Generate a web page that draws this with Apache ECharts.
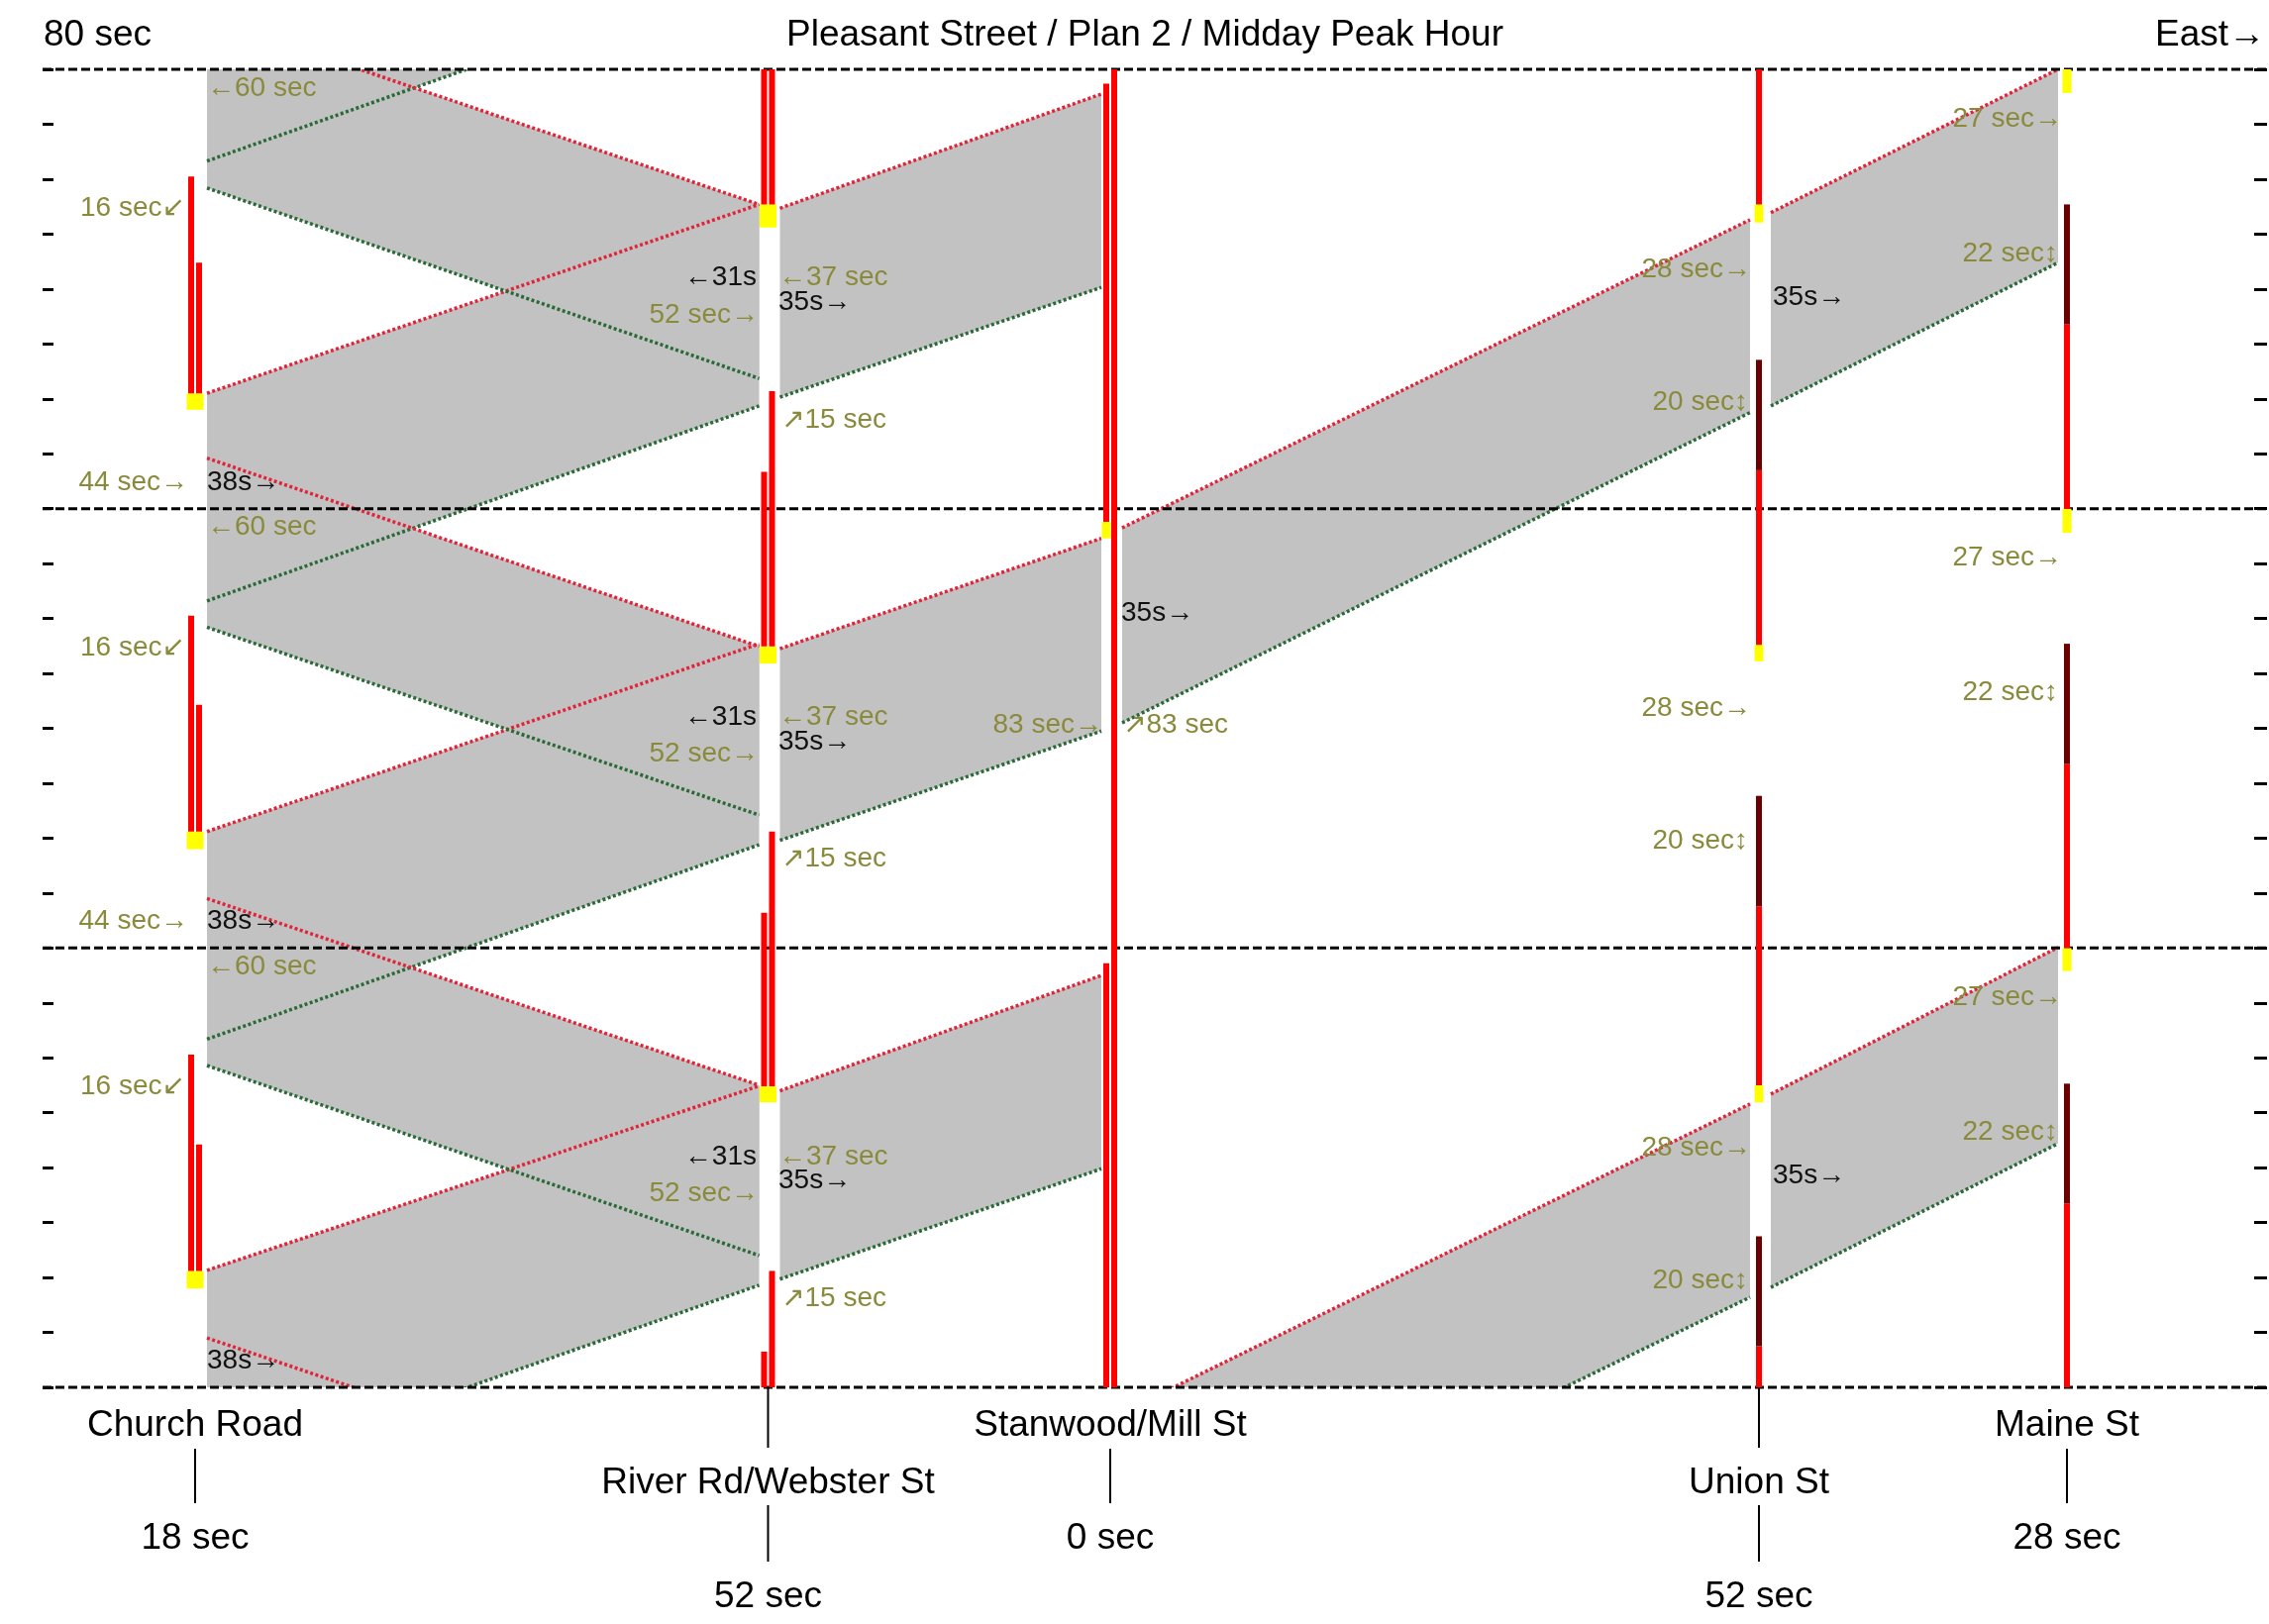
<!DOCTYPE html>
<html><head><meta charset="utf-8">
<script src="https://cdn.jsdelivr.net/npm/echarts@6/dist/echarts.min.js"></script>
<style>html,body{margin:0;padding:0;background:#fff}#c{width:2291px;height:1640px}</style>
</head><body><div id="c"></div>
<script>
// ---------------- DATA ----------------
const chartTitle = 'Pleasant Street / Plan 2 / Midday Peak Hour';
const cycleLabel = '80 sec';
const directionLabel = 'East\u2192';
const cycleBoundaries = [0, 80, 160, 240];
const tickTimes = [0, 240, 10];
const intersectionNames = ['Church Road', 'River Rd/Webster St', 'Stanwood/Mill St', 'Union St', 'Maine St'];
const intersectionDist = [154, 732.5, 1078, 1733, 2044];
const offsetLabels = ['18 sec', '52 sec', '0 sec', '52 sec', '28 sec'];
const labelRow = [0, 1, 0, 1, 0];

// signal bars: [startSec, endSec, state]  r=red, y=yellow, m=dark red
const churchBarA = [[18, 21.2, 'y'], [21.2, 60.6, 'r'], [98, 101.2, 'y'], [101.2, 140.5, 'r'], [178, 181, 'y'], [181, 220.5, 'r']];
const churchBarB = [[18, 21.2, 'y'], [21.2, 44.2, 'r'], [98, 101.2, 'y'], [101.2, 124.3, 'r'], [178, 181, 'y'], [181, 204.8, 'r']];
const riverBarA = [[0, 6.5, 'r'], [51.9, 54.8, 'y'], [54.8, 86.4, 'r'], [131.8, 134.9, 'y'], [134.9, 166.7, 'r'], [211.2, 215.4, 'y'], [215.4, 240, 'r']];
const riverBarB = [[0, 21.2, 'r'], [51.9, 54.8, 'y'], [54.8, 101.2, 'r'], [131.8, 134.9, 'y'], [134.9, 181.4, 'r'], [211.2, 215.4, 'y'], [215.4, 240, 'r']];
const stanwoodBarA = [[0, 77.2, 'r'], [154.6, 157.6, 'y'], [157.6, 237.4, 'r']];
const stanwoodBarB = [[0, 240, 'r']];
const unionBar = [[0, 7.5, 'r'], [7.5, 27.5, 'm'], [51.9, 55, 'y'], [55, 87.6, 'r'], [87.6, 107.7, 'm'], [132.2, 135.2, 'y'], [135.2, 167, 'r'], [167, 187.1, 'm'], [212.1, 215.4, 'y'], [215.4, 240, 'r']];
const maineBar = [[0, 33.5, 'r'], [33.5, 55.3, 'm'], [75.8, 80, 'y'], [80, 113.5, 'r'], [113.5, 135.4, 'm'], [155.6, 160, 'y'], [160, 193.6, 'r'], [193.6, 215.4, 'm'], [235.7, 240, 'y']];
const barIntersection = [0, 0, 1, 1, 2, 2, 3, 4];
const barSide = [-1, 1, -1, 1, -1, 1, 0, 0];
const barSegments = [churchBarA, churchBarB, riverBarA, riverBarB, stanwoodBarA, stanwoodBarB, unionBar, maineBar];

// green bands: [leftLow, leftHigh, rightLow, rightHigh] (seconds at left / right intersection)
const bandsChurchRiverEB = [[-16.6, 21.3, 18.6, 54.9], [63.4, 101.2, 98.8, 135.4], [143.2, 181.0, 178.7, 215.4], [223.3, 261.2, 258.8, 295.4]];
const bandsChurchRiverWB = [[-21.4, 9, -56, -25], [58.6, 89, 24, 55], [138.4, 169.2, 104.2, 134.9], [218.4, 249.4, 183.7, 215.4]];
const bandsRiverStanwood = [[19.7, 54.0, 39.8, 75.0], [99.6, 134.5, 119.5, 154.6], [180.3, 214.7, 200.3, 235.5]];
const bandsStanwoodUnion = [[-39.1, -4.6, 16.4, 51.6], [121.0, 156.5, 177.5, 212.6]];
const bandsUnionMaine = [[18.2, 53.4, 44.4, 80.1], [178.7, 213.9, 204.8, 240.0]];
const bandLinks = [[0, 1], [0, 1], [1, 2], [2, 3], [3, 4]];
const bandGroups = [bandsChurchRiverEB, bandsChurchRiverWB, bandsRiverStanwood, bandsStanwoodUnion, bandsUnionMaine];

// notes: text, distance, second within cycle, cycles shown
const noteTexts = ['\u219060 sec', '16 sec\u2199', '44 sec\u2192', '38s\u2192', '\u219031s', '52 sec\u2192', '\u219037 sec', '35s\u2192', '\u219715 sec', '28 sec\u2192', '20 sec\u2195', '35s\u2192', '27 sec\u2192', '22 sec\u2195', '35s\u2192', '83 sec\u2192', '\u219783 sec'];
const noteDist = [166, 144, 147, 166, 721, 723, 743, 743, 746, 1725, 1722, 1747, 2039, 2035, 1089, 1070, 1091];
const noteTime = [76.6, 54.7, 4.8, 4.8, 42, 35.3, 42, 37.6, 16.2, 43.6, 19.4, 38.5, 71, 46.5, 60.9, 40.6, 40.6];
const noteCycles = [[0, 1, 2], [0, 1, 2], [1, 2], [0, 1, 2], [0, 1, 2], [0, 1, 2], [0, 1, 2], [0, 1, 2], [0, 1, 2], [0, 1, 2], [0, 1, 2], [0, 2], [0, 1, 2], [0, 1, 2], [1], [1], [1]];
const noteAlign = ['left', 'right', 'right', 'left', 'right', 'right', 'left', 'left', 'left', 'right', 'right', 'left', 'right', 'right', 'left', 'right', 'left'];
const noteDark = [0, 0, 0, 1, 1, 0, 0, 1, 0, 0, 0, 1, 0, 0, 1, 0, 0];

// ---------------- BUILD ----------------
const FONT = '"Liberation Sans", "DejaVu Sans", Arial, sans-serif';
const OLIVE = '#8a8a3c';
const stateCode = { r: 0, y: 1, m: 2 };
const stateColor = ['#ff0000', '#ffff00', '#6a0000'];

const barData = [];
barSegments.forEach((segs, b) => {
  segs.forEach(s => barData.push([intersectionDist[barIntersection[b]], s[0], s[1], stateCode[s[2]], barSide[b]]));
});
const bandData = [];
bandGroups.forEach((g, i) => {
  g.forEach(b => bandData.push([intersectionDist[bandLinks[i][0]], intersectionDist[bandLinks[i][1]], b[0], b[1], b[2], b[3]]));
});
const noteData = [];
noteTexts.forEach((t, i) => {
  noteCycles[i].forEach(c => noteData.push([noteDist[i], c * 80 + noteTime[i], i]));
});

function txt(x, y, text, size, fill, align) {
  return { type: 'text', x: x, y: y, style: { text: text, fill: fill, font: size + 'px ' + FONT,
    align: align, textAlign: align, verticalAlign: 'middle', textVerticalAlign: 'middle' } };
}

function bandPoints(api) {
  const xl = api.coord([api.value(0), 0])[0] + 12;
  const xr = api.coord([api.value(1), 0])[0] - 9;
  const Y = t => api.coord([0, t])[1];
  return { xl, xr, ll: Y(api.value(2)), lh: Y(api.value(3)), rl: Y(api.value(4)), rh: Y(api.value(5)) };
}

const chart = echarts.init(document.getElementById('c'), null, { renderer: 'canvas', width: 2291, height: 1640 });
const yAxisBase = {
  type: 'value', min: tickTimes[0], max: tickTimes[1], interval: tickTimes[2],
  axisLine: { show: false }, axisLabel: { show: false, interval: 0 }, splitLine: { show: false }
};
chart.setOption({
  animation: false,
  backgroundColor: '#ffffff',
  grid: { left: 43, right: 2, top: 70, bottom: 239 },
  xAxis: { type: 'value', min: 0, max: 2246, show: false },
  yAxis: [
    Object.assign({}, yAxisBase, { position: 'left', axisTick: { show: true, inside: true, length: 11, interval: 0, lineStyle: { color: '#000', width: 3 } } }),
    Object.assign({}, yAxisBase, { position: 'right', axisTick: { show: true, inside: true, length: 13, interval: 0, lineStyle: { color: '#000', width: 3 } } })
  ],
  graphic: [
    txt(44, 36, cycleLabel, 37, '#000', 'left'),
    txt(1156, 36, chartTitle, 37, '#000', 'center'),
    txt(2287, 36, directionLabel, 37, '#000', 'right')
  ],
  series: [
    { // band fills
      type: 'custom', z: 1, clip: true, silent: true, data: bandData,
      renderItem: function (params, api) {
        const p = bandPoints(api);
        return { type: 'polygon', shape: { points: [[p.xl, p.ll], [p.xr, p.rl], [p.xr, p.rh], [p.xl, p.lh]] }, style: { fill: '#c2c2c2' } };
      }
    },
    { // band edges
      type: 'custom', z: 2, clip: true, silent: true, data: bandData,
      renderItem: function (params, api) {
        const p = bandPoints(api);
        return { type: 'group', children: [
          { type: 'line', shape: { x1: p.xl, y1: p.ll, x2: p.xr, y2: p.rl }, style: { stroke: '#2a6a38', lineWidth: 3.5, lineDash: [3, 2.5] } },
          { type: 'line', shape: { x1: p.xl, y1: p.lh, x2: p.xr, y2: p.rh }, style: { stroke: '#e0243a', lineWidth: 3.5, lineDash: [3, 2.5] } }
        ] };
      }
    },
    { // cycle boundaries
      type: 'custom', z: 3, silent: true, data: cycleBoundaries.map(t => [0, t]),
      renderItem: function (params, api) {
        const cs = params.coordSys;
        const y = api.coord([0, api.value(1)])[1];
        return { type: 'line', shape: { x1: cs.x, y1: y, x2: cs.x + cs.width + 2, y2: y }, style: { stroke: '#000', lineWidth: 3, lineDash: [9, 4] } };
      }
    },
    { // signal bars
      type: 'custom', z: 4, silent: true, data: barData,
      renderItem: function (params, api) {
        const p0 = api.coord([api.value(0), api.value(1)]);
        const p1 = api.coord([api.value(0), api.value(2)]);
        const code = api.value(3);
        const w = code === 1 ? 9 : 6;
        const cx = p0[0] + api.value(4) * 4;
        return { type: 'rect', shape: { x: cx - w / 2, y: p1[1], width: w, height: p0[1] - p1[1] }, style: { fill: stateColor[code] } };
      }
    },
    { // notes
      type: 'custom', z: 5, silent: true, data: noteData,
      renderItem: function (params, api) {
        const p = api.coord([api.value(0), api.value(1)]);
        const i = api.value(2);
        return txt(p[0], p[1], noteTexts[i], 28, noteDark[i] ? '#111' : OLIVE, noteAlign[i]);
      }
    },
    { // intersection labels below
      type: 'custom', z: 5, silent: true, data: intersectionDist.map((d, i) => [d, 0, i]),
      renderItem: function (params, api) {
        const p = api.coord([api.value(0), 0]);
        const i = api.value(2);
        const x = p[0], b = p[1];
        const ls = { stroke: '#000', lineWidth: 2 };
        if (labelRow[i] === 0) {
          return { type: 'group', children: [
            txt(x, b + 39, intersectionNames[i], 37, '#000', 'center'),
            { type: 'line', shape: { x1: x, y1: b + 62, x2: x, y2: b + 117 }, style: ls },
            txt(x, b + 153, offsetLabels[i], 37, '#000', 'center')
          ] };
        }
        return { type: 'group', children: [
          { type: 'line', shape: { x1: x, y1: b, x2: x, y2: b + 61 }, style: ls },
          txt(x, b + 97, intersectionNames[i], 37, '#000', 'center'),
          { type: 'line', shape: { x1: x, y1: b + 119, x2: x, y2: b + 176 }, style: ls },
          txt(x, b + 212, offsetLabels[i], 37, '#000', 'center')
        ] };
      }
    }
  ]
});
</script></body></html>
